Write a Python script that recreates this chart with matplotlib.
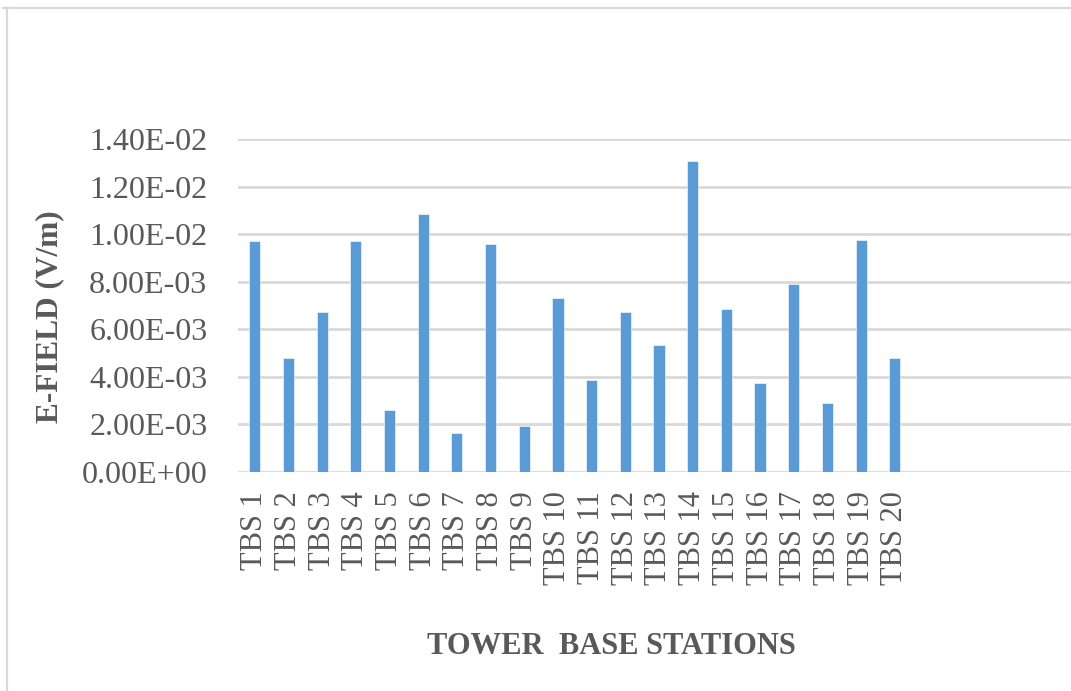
import matplotlib
matplotlib.use("Agg")
import matplotlib.pyplot as plt
from matplotlib.lines import Line2D

categories = [f"TBS {i}" for i in range(1, 21)]
values = [9.70e-3, 4.81e-3, 6.71e-3, 9.70e-3, 2.61e-3, 10.86e-3, 1.64e-3, 9.57e-3,
          1.92e-3, 7.30e-3, 3.86e-3, 6.71e-3, 5.36e-3, 13.09e-3, 6.86e-3, 3.75e-3,
          7.90e-3, 2.88e-3, 9.74e-3, 4.81e-3]
yticks = [0.0, 0.002, 0.004, 0.006, 0.008, 0.010, 0.012, 0.014]
ytick_labels = ["0.00E+00", "2.00E-03", "4.00E-03", "6.00E-03", "8.00E-03",
                "1.00E-02", "1.20E-02", "1.40E-02"]

W, H = 1071, 691
fig = plt.figure(figsize=(W / 100, H / 100), dpi=100)
fig.patch.set_facecolor("white")

grey = "#595959"
grid = "#d9d9d9"
serif = ["Liberation Serif", "DejaVu Serif"]

left, right = 238 / W, 1080 / W
bottom, top = 1 - 472 / H, 1 - 139 / H
ax = fig.add_axes([left, bottom, right - left, top - bottom])

x = list(range(len(categories)))
ax.bar(x, values, width=0.33, color="#5b9bd5", edgecolor="white", linewidth=0.4, zorder=3)

ax.set_xlim(-0.5, 24.5)
ax.set_ylim(0, 0.014)
ax.set_yticks(yticks)
ax.set_yticklabels(ytick_labels, fontfamily=serif, fontsize=23, color=grey)
ax.set_xticks(x)
ax.set_xticklabels(categories, rotation=90, fontfamily=serif, fontsize=22, color=grey)
ax.tick_params(axis="y", length=0, pad=22)
ax.tick_params(axis="x", length=0, pad=14)
for s in ax.spines.values():
    s.set_visible(False)
ax.yaxis.grid(True, color=grid, linewidth=2.0, zorder=0)
ax.set_axisbelow(True)

fig.text(50 / W, 1 - 317 / H, "E-FIELD (V/m)", rotation=90, ha="center", va="center",
         fontfamily=serif, fontsize=22.5, fontweight="bold", color=grey)
fig.text(611 / W, 1 - 647 / H, "TOWER  BASE STATIONS", ha="center", va="center",
         fontfamily=serif, fontsize=22, fontweight="bold", color=grey)

# outer chart border (top and left visible)
fig.add_artist(Line2D([3 / W, 1.0], [1 - 8 / H, 1 - 8 / H], transform=fig.transFigure,
                      color=grid, linewidth=1.6))
fig.add_artist(Line2D([7 / W, 7 / W], [0, 1 - 8 / H], transform=fig.transFigure,
                      color=grid, linewidth=1.6))

fig.savefig("out.png", dpi=100, facecolor="white")
